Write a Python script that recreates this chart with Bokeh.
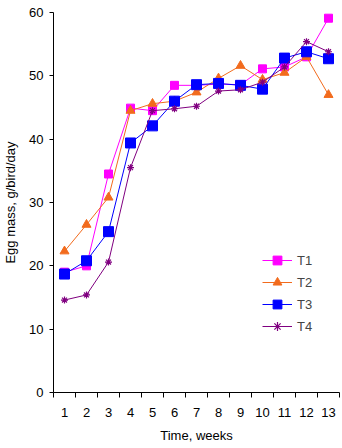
from bokeh.plotting import figure
from bokeh.models import FixedTicker, Range1d, Legend, LegendItem
from bokeh.embed import file_html
from bokeh.resources import INLINE

weeks = [1, 2, 3, 4, 5, 6, 7, 8, 9, 10, 11, 12, 13]
week_labels = [str(w) for w in weeks]
t1 = [19.0, 20.0, 34.5, 44.9, 44.5, 48.5, 48.5, 48.7, 48.6, 51.1, 51.4, 53.0, 59.1]
t2 = [22.3, 26.5, 30.8, 44.5, 45.6, 46.0, 47.4, 49.6, 51.6, 49.4, 50.5, 53.0, 47.0]
t3 = [18.7, 20.8, 25.4, 39.4, 42.1, 46.0, 48.6, 48.8, 48.5, 47.9, 52.8, 53.8, 52.7]
t4 = [14.6, 15.4, 20.6, 35.5, 44.5, 44.8, 45.2, 47.6, 47.8, 49.0, 51.4, 55.4, 53.8]
y_ticks = [0, 10, 20, 30, 40, 50, 60]

FONT = "Liberation Sans"

p = figure(width=342, height=448, output_backend="svg", toolbar_location=None,
           x_range=Range1d(0.5, 13.5), y_range=Range1d(0, 60),
           min_border_left=53, min_border_right=3, min_border_top=12, min_border_bottom=56)
p.outline_line_color = None
p.xgrid.visible = False
p.ygrid.visible = False
p.background_fill_color = "white"
p.border_fill_color = "white"

p.xaxis.ticker = FixedTicker(ticks=weeks, minor_ticks=[w - 0.5 for w in weeks] + [13.5])
p.xaxis.major_label_overrides = {w: l for w, l in zip(weeks, week_labels)}
p.xaxis.major_tick_out = 0
p.xaxis.major_tick_in = 0
p.xaxis.minor_tick_out = 5
p.xaxis.minor_tick_in = 0
p.xaxis.major_label_standoff = 10
p.xaxis.axis_label = "Time, weeks"
p.xaxis.axis_label_standoff = 8

p.yaxis.ticker = FixedTicker(ticks=y_ticks)
p.yaxis.minor_tick_line_color = None
p.yaxis.major_tick_out = 4
p.yaxis.major_tick_in = 0
p.yaxis.major_label_standoff = 6
p.yaxis.axis_label = "Egg mass, g/bird/day"
p.yaxis.axis_label_standoff = 8

for ax in (p.xaxis, p.yaxis):
    ax.axis_line_color = "black"
    ax.major_tick_line_color = "black"
    ax.major_label_text_font = FONT
    ax.major_label_text_font_size = "13px"
    ax.major_label_text_color = "black"
    ax.axis_label_text_font = FONT
    ax.axis_label_text_font_size = "13px"
    ax.axis_label_text_font_style = "normal"
    ax.axis_label_text_color = "black"
p.xaxis.minor_tick_line_color = "black"

items = []
specs = [
    ("T1", t1, "#FF00FF", "square", 8),
    ("T2", t2, "#F26B1D", "triangle", 9),
    ("T3", t3, "#0000FF", "square", 10),
    ("T4", t4, "#800080", "asterisk", 7),
]
for name, ys, col, mk, sz in specs:
    r1 = p.line(weeks, ys, line_color=col, line_width=1)
    r2 = p.scatter(weeks, ys, marker=mk, size=sz, fill_color=col, line_color=col, line_width=1.2 if mk == "asterisk" else 1)
    items.append(LegendItem(label=name, renderers=[r1, r2]))

legend = Legend(items=items, location=(209, 55), padding=0, margin=0, spacing=0,
                glyph_width=30, glyph_height=22, label_height=22, label_standoff=5,
                label_text_font=FONT, label_text_font_size="13px",
                border_line_color=None, background_fill_alpha=0)
p.add_layout(legend, "center")

open("out.html", "w").write(file_html(p, INLINE))
